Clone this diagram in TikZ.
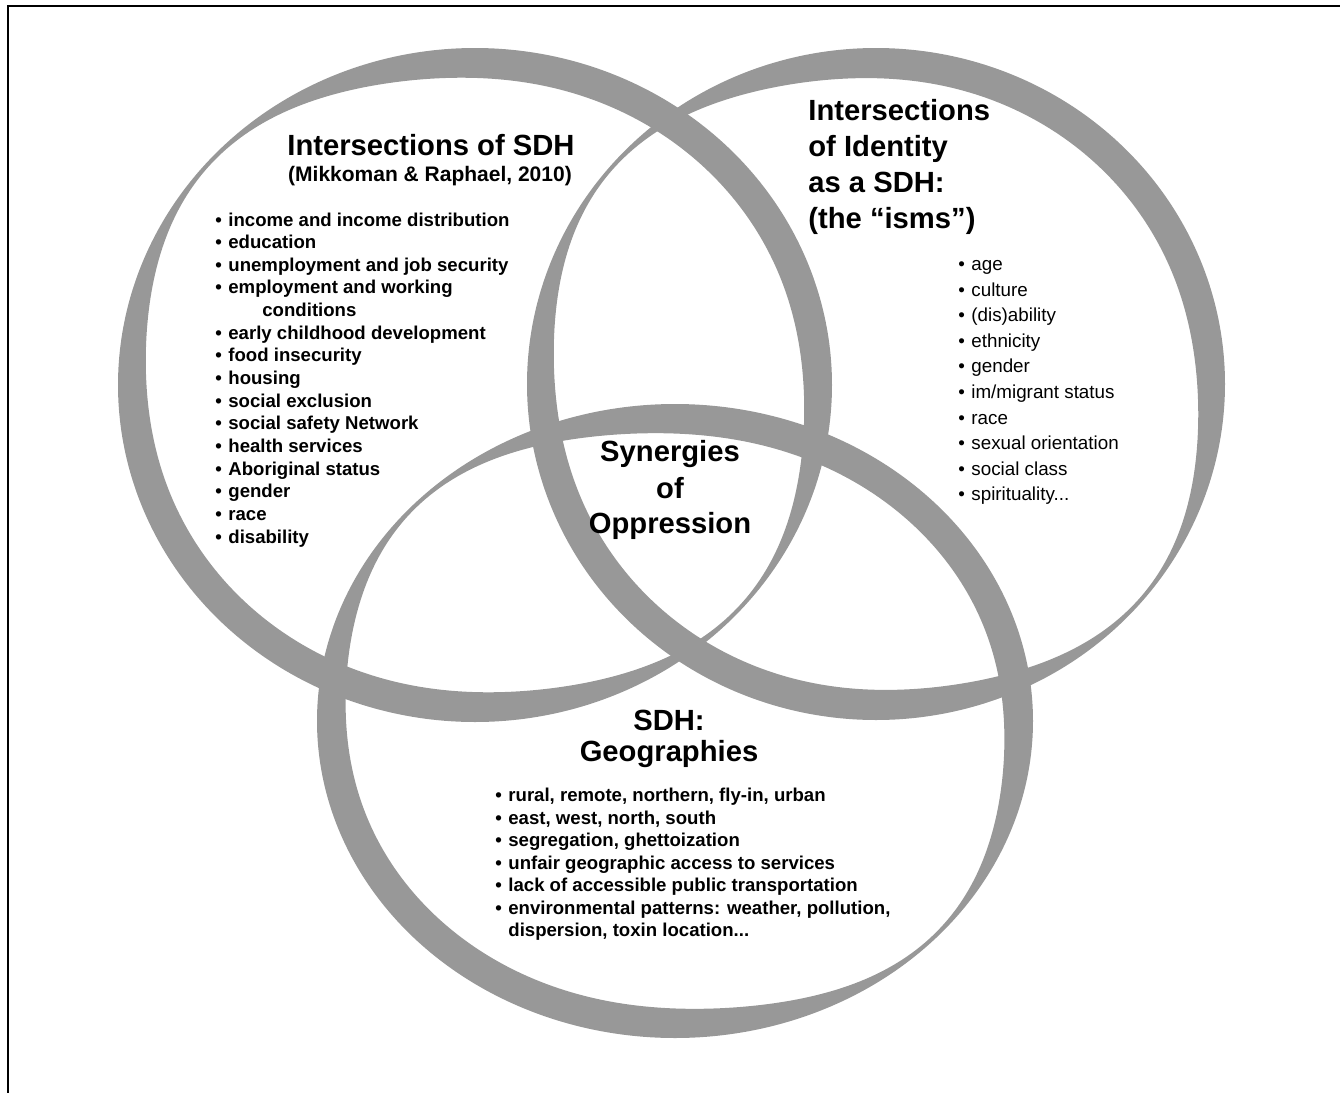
\documentclass[tikz,border=0pt]{standalone}
\usepackage{fontspec}
\setmainfont{Liberation Sans}
\definecolor{ringgray}{RGB}{152,152,152}
% #1 cx, #2 cy, #3 rx, #4 ry, #5 full width, #6 angle of thin axis
\newcommand\myring[6]{%
  \fill[ringgray,even odd rule]
    plot[domain=0:360,samples=361] ({#1+#3*cos(\x)},{#2+#4*sin(\x)}) -- cycle
    plot[domain=0:360,samples=361] ({#1+(#3-wd(\x,#5,4,#6))*cos(\x)},{#2+(#4-wd(\x,#5,4,#6))*sin(\x)}) -- cycle;}
\tikzset{
  ttl/.style={font=\bfseries\fontsize{14.6}{18}\selectfont, inner sep=0},
  subttl/.style={font=\bfseries\fontsize{10.5}{12}\selectfont, inner sep=0},
  lstb/.style={font=\bfseries\fontsize{9.3}{11}\selectfont, anchor=base west, inner sep=0},
  lstr/.style={font=\fontsize{9.4}{11}\selectfont, anchor=base west, inner sep=0},
}
\newcommand\bul{\llap{\textbullet\hspace{3.2pt}}}
\begin{document}
\begin{tikzpicture}[x=0.5pt,y=-0.5pt,
  declare function={wd(\t,\W,\m,\a)=\W-(\W-\m)*(0.0001+cos(\t-\a)*cos(\t-\a))^4;}]
\useasboundingbox (0,0) rectangle (1340,1093);
% frame
\draw[line width=1pt] (7.5,1093) -- (7.5,5.5) -- (1340,5.5);
% rings
\myring{475}{385}{357}{337}{31}{222}
\myring{876}{384}{349}{336}{31}{220}
\myring{675}{721}{358}{317}{31}{224}
% left circle texts
\node[ttl,anchor=base] (ltitle) at (431,155) {Intersections of SDH};
\node[subttl,anchor=base] (lsub) at (430,181) {(Mikkoman \& Raphael, 2010)};
\foreach \t/\k in {{income and income distribution}/0, {education}/1, {unemployment and job security}/2,
  {employment and working}/3, {early childhood development}/5, {food insecurity}/6, {housing}/7,
  {social exclusion}/8, {social safety Network}/9, {health services}/10, {Aboriginal status}/11,
  {gender}/12, {race}/13, {disability}/14}
  \node[lstb] (litem\k) at (228,226+22.65*\k) {\bul\t};
\node[lstb] (litem4) at (262,226+22.65*4) {conditions};
% right circle texts
\node[ttl,anchor=base west] (rt1) at (808,120.7) {Intersections};
\node[ttl,anchor=base west] (rt2) at (808,156.6) {of Identity};
\node[ttl,anchor=base west] (rt3) at (808,192.5) {as a SDH:};
\node[ttl,anchor=base west] (rt4) at (808,228.4) {(the “isms”)};
\foreach \t/\k in {{age}/0, {culture}/1, {(dis)ability}/2, {ethnicity}/3, {gender}/4, {im/migrant status}/5,
  {race}/6, {sexual orientation}/7, {social class}/8, {spirituality...}/9}
  \node[lstr] (ritem\k) at (971,270.7+25.55*\k) {\bul\t};
% centre
\node[ttl,anchor=base] (syn1) at (670,461.7) {Synergies};
\node[ttl,anchor=base] (syn2) at (670,498) {of};
\node[ttl,anchor=base] (syn3) at (670,533.5) {Oppression};
% bottom circle texts
\node[ttl,anchor=base] (bt1) at (669,730) {SDH:};
\node[ttl,anchor=base] (bt2) at (669,761.7) {Geographies};
\foreach \t/\k in {{rural, remote, northern, fly-in, urban}/0, {east, west, north, south}/1,
  {segregation, ghettoization}/2, {unfair geographic access to services}/3,
  {lack of accessible public transportation}/4, {environmental patterns: weather, pollution,}/5}
  \node[lstb] (bitem\k) at (508,801.7+22.5*\k) {\bul\t};
\node[lstb] (bitem6) at (508,801.7+22.5*6) {dispersion, toxin location...};
\end{tikzpicture}
\end{document}
